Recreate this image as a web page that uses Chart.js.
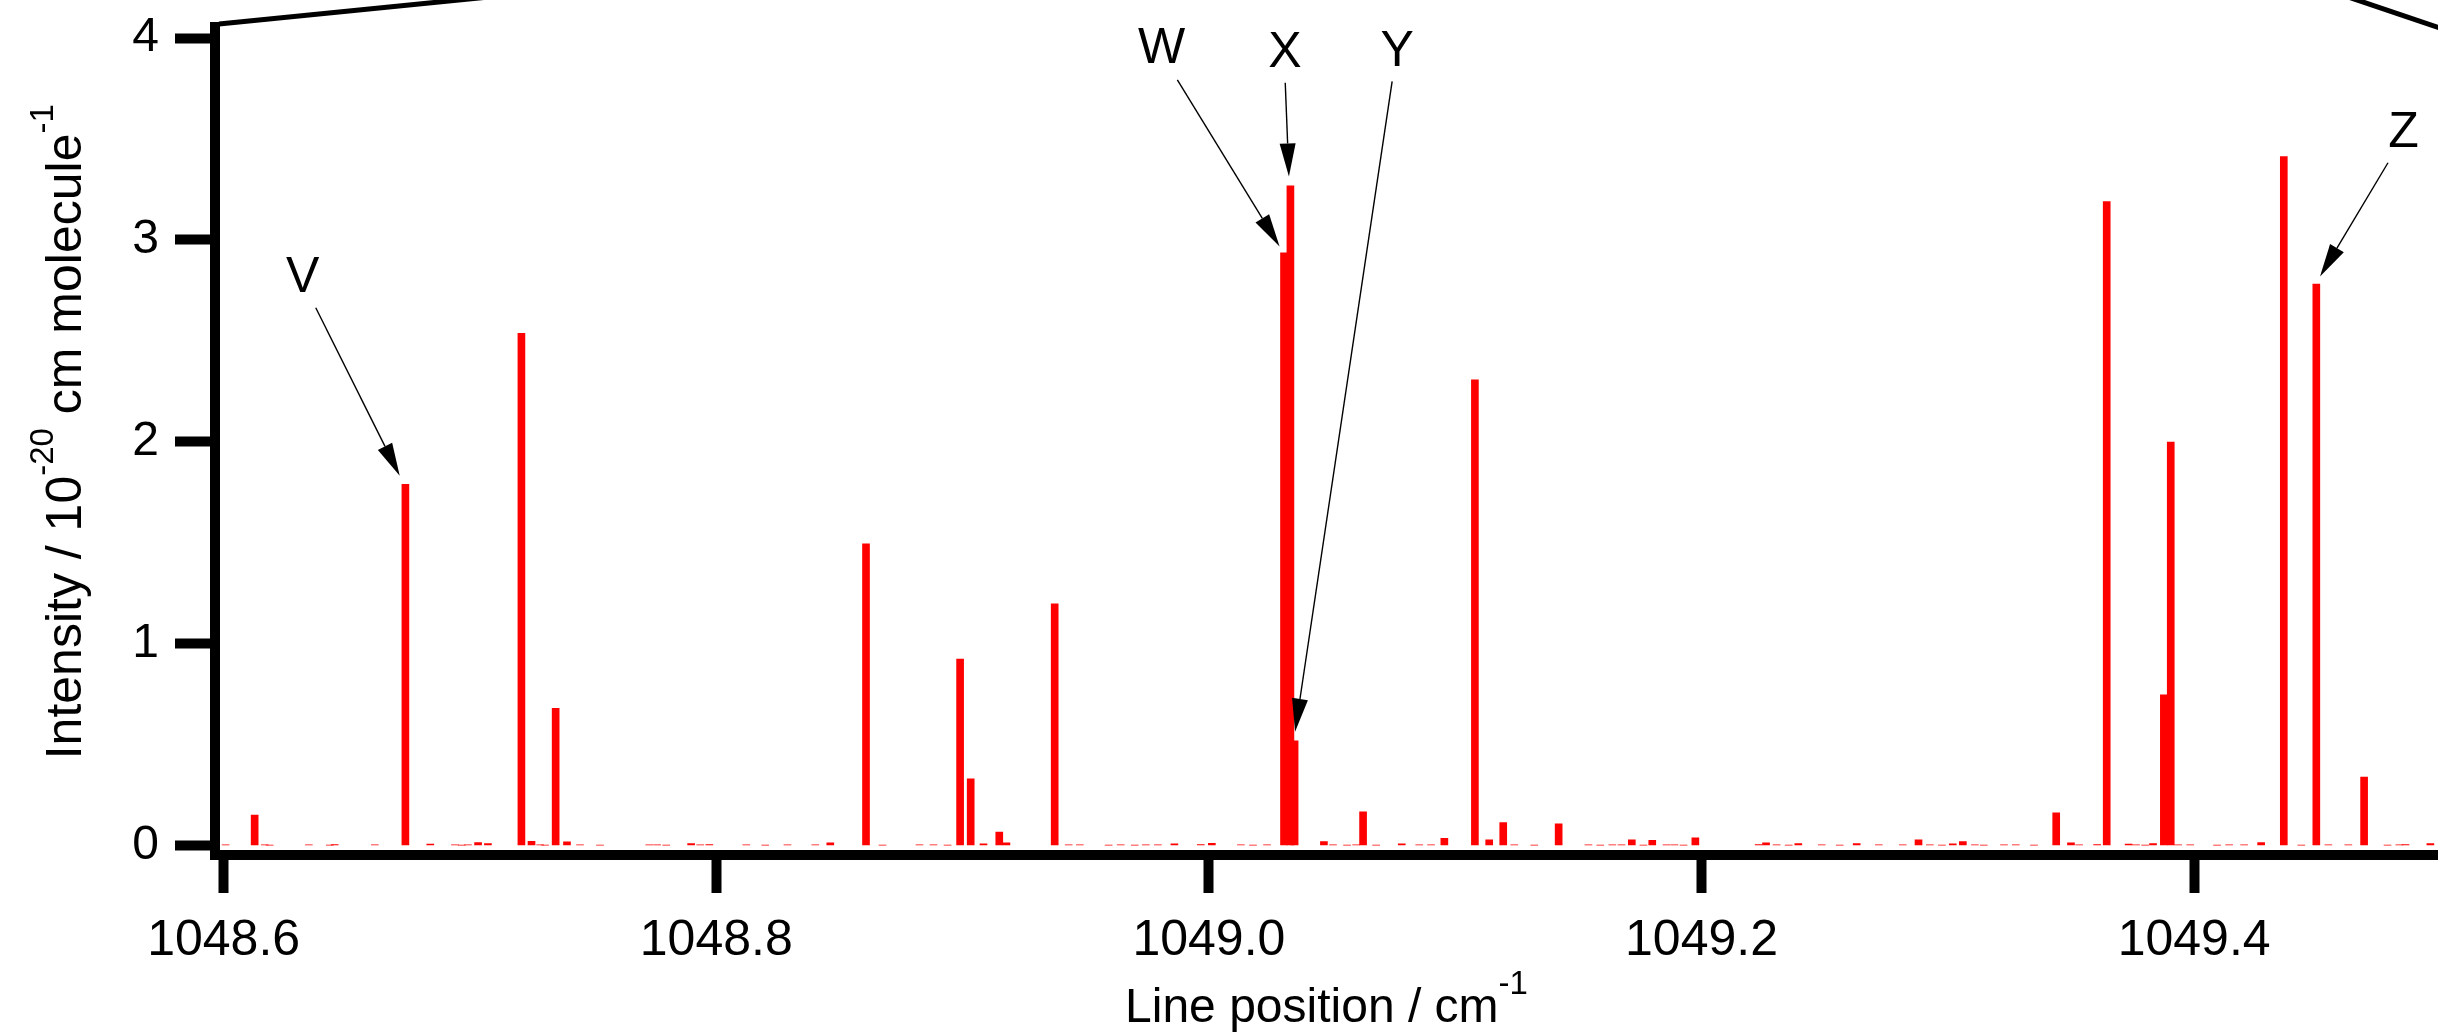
<!DOCTYPE html>
<html><head><meta charset="utf-8">
<script src="https://cdn.jsdelivr.net/npm/chart.js@4.4.1/dist/chart.umd.min.js"></script>
<style>html,body{margin:0;padding:0;background:#fff;overflow:hidden}#wrap{width:2438px;height:1032px}</style>
</head><body><div id="wrap"><canvas id="c" width="2438" height="1032"></canvas></div>
<script>
// ---- data (line positions in cm-1, intensities in 1e-20 cm/molecule) ----
const strongPositions = [1048.6126, 1048.6738, 1048.6839, 1048.7033, 1048.7073, 1048.7209, 1048.7250, 1048.7348, 1048.7394, 1048.7898,
  1048.8463, 1048.8608, 1048.8990, 1048.9033, 1048.9085, 1048.9149, 1048.9178, 1048.9374, 1048.9860, 1049.0012,
  1049.0305, 1049.0331, 1049.0348, 1049.0467, 1049.0626, 1049.0783, 1049.0956, 1049.1080, 1049.1138, 1049.1195,
  1049.1420, 1049.1717, 1049.1800, 1049.1975, 1049.2262, 1049.2393, 1049.2630, 1049.2881, 1049.3020, 1049.3061,
  1049.3440, 1049.3500, 1049.3645, 1049.3734, 1049.3833, 1049.3877, 1049.3905, 1049.4272, 1049.4364, 1049.4496,
  1049.4690, 1049.4959];
const strongIntensities = [0.151, 1.789, 0.007, 0.014, 0.009, 2.537, 0.021, 0.679, 0.018, 0.010,
  0.013, 1.494, 0.923, 0.330, 0.008, 0.066, 0.013, 1.197, 0.008, 0.011,
  2.936, 3.268, 0.519, 0.020, 0.167, 0.008, 0.035, 2.307, 0.028, 0.114,
  0.107, 0.028, 0.025, 0.038, 0.013, 0.010, 0.010, 0.028, 0.008, 0.020,
  0.162, 0.013, 3.190, 0.007, 0.010, 0.746, 1.998, 0.015, 3.413, 2.781,
  0.339, 0.010];
const weakPositions = [1048.6008, 1048.6167, 1048.6187, 1048.6346, 1048.6431, 1048.6451, 1048.6614, 1048.6939, 1048.6967, 1048.6992,
  1048.7285, 1048.7305, 1048.7447, 1048.7528, 1048.7728, 1048.7760, 1048.7797, 1048.7935, 1048.7972, 1048.8122,
  1048.8199, 1048.8289, 1048.8402, 1048.8675, 1048.8825, 1048.8882, 1048.8939, 1048.9431, 1048.9476, 1048.9593,
  1048.9642, 1048.9699, 1048.9744, 1048.9793, 1048.9967, 1049.0130, 1049.0179, 1049.0236, 1049.0504, 1049.0561,
  1049.0598, 1049.0679, 1049.0854, 1049.0902, 1049.1240, 1049.1321, 1049.1541, 1049.1589, 1049.1638, 1049.1675,
  1049.1764, 1049.1858, 1049.1890, 1049.1927, 1049.2232, 1049.2305, 1049.2354, 1049.2488, 1049.2561, 1049.2720,
  1049.2817, 1049.2927, 1049.2976, 1049.3110, 1049.3146, 1049.3228, 1049.3276, 1049.3350, 1049.3533, 1049.3606,
  1049.3764, 1049.3801, 1049.3935, 1049.3984, 1049.4093, 1049.4142, 1049.4203, 1049.4435, 1049.4545, 1049.4626,
  1049.4785, 1049.4833, 1049.4858];
const weakIntensities = [0.003, 0.003, 0.002, 0.003, 0.002, 0.004, 0.003, 0.003, 0.002, 0.003,
  0.003, 0.002, 0.003, 0.002, 0.003, 0.003, 0.002, 0.003, 0.004, 0.003,
  0.002, 0.003, 0.003, 0.002, 0.003, 0.003, 0.002, 0.003, 0.003, 0.002,
  0.003, 0.002, 0.003, 0.003, 0.004, 0.003, 0.002, 0.003, 0.003, 0.002,
  0.003, 0.002, 0.003, 0.003, 0.003, 0.002, 0.003, 0.002, 0.003, 0.003,
  0.002, 0.003, 0.003, 0.002, 0.004, 0.003, 0.002, 0.003, 0.002, 0.003,
  0.003, 0.003, 0.002, 0.003, 0.002, 0.003, 0.003, 0.002, 0.003, 0.004,
  0.003, 0.002, 0.003, 0.003, 0.002, 0.003, 0.003, 0.002, 0.003, 0.003,
  0.002, 0.003, 0.004];

const xTickValues = [1048.6, 1048.8, 1049.0, 1049.2, 1049.4];
const yTickValues = [0, 1, 2, 3, 4];
const xRange = [1048.5965, 1049.499];
const yRange = [-0.0446, 4.0545];

// annotation labels and arrows (in data units)
const annotLabels = ['V', 'W', 'X', 'Y', 'Z'];
const annotLabelX = [1048.6321, 1048.9808, 1049.0309, 1049.0764, 1049.4850];
const annotLabelY = [2.812, 3.942, 3.927, 3.932, 3.528];
const annotTailX  = [1048.6374, 1048.9872, 1049.0310, 1049.0744, 1049.4787];
const annotTailY  = [2.664, 3.793, 3.778, 3.785, 3.382];
const annotTipX   = [1048.6715, 1049.0287, 1049.0325, 1049.0350, 1049.4511];
const annotTipY   = [1.831, 2.967, 3.314, 0.564, 2.819];

const xTitleParts = [['Line position / cm', false], ['-1', true]];
const yTitleParts = [['Intensity / 10', false], ['-20', true], [' cm molecule', false], ['-1', true]];

const FONT = "'Liberation Sans', Arial, Helvetica, sans-serif";

function drawParts(ctx, parts, size, supSize, raise) {
  // draws centred on x=0, baseline y=0
  const widths = parts.map(p => { ctx.font = (p[1] ? supSize : size) + 'px ' + FONT; return ctx.measureText(p[0]).width; });
  const total = widths.reduce((a, b) => a + b, 0);
  let x = -total / 2;
  ctx.textAlign = 'left';
  ctx.textBaseline = 'alphabetic';
  parts.forEach((p, i) => {
    ctx.font = (p[1] ? supSize : size) + 'px ' + FONT;
    ctx.fillText(p[0], x, p[1] ? -raise : 0);
    x += widths[i];
  });
}

const decorPlugin = {
  id: 'decor',
  afterDraw(chart) {
    const ctx = chart.ctx, ca = chart.chartArea;
    const xs = chart.scales.x, ys = chart.scales.y;
    ctx.save();
    ctx.fillStyle = '#000';
    // corner fill of the two axis lines
    ctx.fillRect(ca.left - 5, ca.bottom - 5, 10, 10);
    // zoom connector lines from the panel above
    ctx.strokeStyle = '#000';
    ctx.lineWidth = 5;
    ctx.beginPath();
    ctx.moveTo(ca.left + 4, ca.top - 3);
    ctx.lineTo(ca.left + 4 + 400, ca.top - 3 - 400 * 0.1);
    ctx.stroke();
    ctx.beginPath();
    ctx.moveTo(ca.right + 2, ca.top + 1);
    ctx.lineTo(ca.right + 2 - 200, ca.top + 1 - 200 * 27 / 80);
    ctx.stroke();
    // annotations
    ctx.lineWidth = 1.4;
    for (let i = 0; i < annotLabels.length; i++) {
      const lx = xs.getPixelForValue(annotLabelX[i]), ly = ys.getPixelForValue(annotLabelY[i]);
      ctx.font = '50px ' + FONT;
      ctx.textAlign = 'center';
      ctx.textBaseline = 'middle';
      ctx.fillText(annotLabels[i], lx, ly);
      const tx = xs.getPixelForValue(annotTailX[i]), ty = ys.getPixelForValue(annotTailY[i]);
      const px = xs.getPixelForValue(annotTipX[i]), py = ys.getPixelForValue(annotTipY[i]);
      const dx = px - tx, dy = py - ty, len = Math.hypot(dx, dy);
      const ux = dx / len, uy = dy / len;
      const headL = 33, headW = 8;
      const bx = px - ux * headL, by = py - uy * headL;
      ctx.beginPath();
      ctx.moveTo(tx, ty);
      ctx.lineTo(bx, by);
      ctx.stroke();
      ctx.beginPath();
      ctx.moveTo(px, py);
      ctx.lineTo(bx - uy * headW, by + ux * headW);
      ctx.lineTo(bx + uy * headW, by - ux * headW);
      ctx.closePath();
      ctx.fill();
    }
    // axis titles with superscripts
    ctx.save();
    ctx.translate((ca.left + ca.right) / 2, ca.bottom + 167);
    drawParts(ctx, xTitleParts, 48, 33, 28);
    ctx.restore();
    ctx.save();
    ctx.translate(81, (ca.top + ca.bottom) / 2 - 9);
    ctx.rotate(-Math.PI / 2);
    drawParts(ctx, yTitleParts, 50, 33, 28);
    ctx.restore();
    ctx.restore();
  }
};

new Chart(document.getElementById('c'), {
  type: 'bar',
  data: {
    datasets: [
      { label: 'Lines', data: strongPositions.map((x, i) => ({ x: x, y: strongIntensities[i] })),
        backgroundColor: '#ff0000', borderWidth: 0, barThickness: 7, grouped: false },
      { label: 'Weak lines', data: weakPositions.map((x, i) => ({ x: x, y: weakIntensities[i] })),
        backgroundColor: '#ff0000', borderWidth: 0, barThickness: 7, grouped: false }
    ]
  },
  options: {
    responsive: false, animation: false, devicePixelRatio: 1,
    layout: { padding: { top: 27, left: 0, right: 0, bottom: 0 } },
    plugins: { legend: { display: false }, tooltip: { enabled: false }, title: { display: false } },
    scales: {
      x: {
        type: 'linear', min: xRange[0], max: xRange[1], offset: false,
        grid: { offset: false, drawOnChartArea: false, drawTicks: true, tickLength: 38.5, tickWidth: 10, tickColor: '#000' },
        border: { display: true, color: '#000', width: 10 },
        ticks: { padding: 18, color: '#000', font: { family: FONT, size: 50 }, maxRotation: 0, autoSkip: false,
          callback: v => Number(v).toFixed(1) },
        afterBuildTicks: s => { s.ticks = xTickValues.map(v => ({ value: v })); },
        afterFit: s => { s.height = 177.5; s.paddingLeft = 0; s.paddingRight = 0; s.paddingTop = 0; s.paddingBottom = 0; }
      },
      y: {
        type: 'linear', min: yRange[0], max: yRange[1],
        grid: { drawOnChartArea: false, drawTicks: true, tickLength: 40, tickWidth: 10, tickColor: '#000' },
        border: { display: true, color: '#000', width: 10 },
        ticks: { padding: 16, color: '#000', font: { family: FONT, size: 48 },
          callback: v => String(v) },
        afterBuildTicks: s => { s.ticks = yTickValues.map(v => ({ value: v })); },
        afterFit: s => { s.width = 215; s.paddingLeft = 0; s.paddingRight = 0; s.paddingTop = 0; s.paddingBottom = 0; }
      }
    }
  },
  plugins: [decorPlugin]
});
</script>
</body></html>
